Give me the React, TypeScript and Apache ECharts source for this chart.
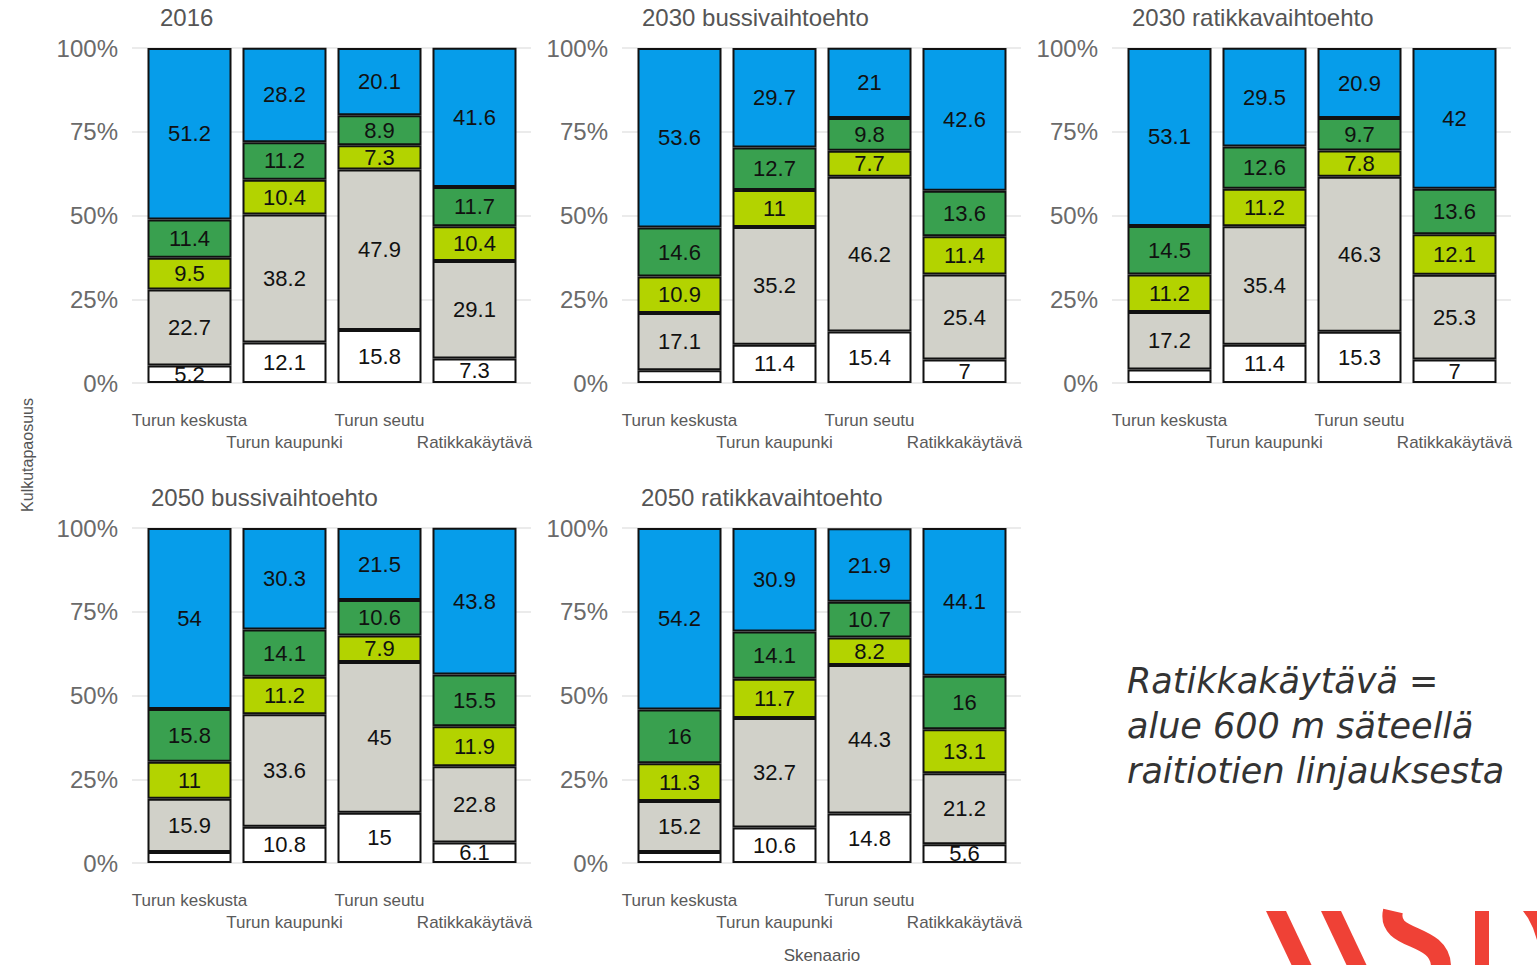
import React, { useEffect, useRef } from "react";
import * as echarts from "echarts";

const categories = ["Turun keskusta", "Turun kaupunki", "Turun seutu", "Ratikkakäytävä"];
const panelTitles = [
  "2016",
  "2030 bussivaihtoehto",
  "2030 ratikkavaihtoehto",
  "2050 bussivaihtoehto",
  "2050 ratikkavaihtoehto",
];
const yTicks = [0, 25, 50, 75, 100];

// segments bottom -> top: white, grey, yellow-green, green, blue
const y2016 = [
  [5.2, 12.1, 15.8, 7.3],
  [22.7, 38.2, 47.9, 29.1],
  [9.5, 10.4, 7.3, 10.4],
  [11.4, 11.2, 8.9, 11.7],
  [51.2, 28.2, 20.1, 41.6],
];
const y2030bus = [
  [3.8, 11.4, 15.4, 7],
  [17.1, 35.2, 46.2, 25.4],
  [10.9, 11, 7.7, 11.4],
  [14.6, 12.7, 9.8, 13.6],
  [53.6, 29.7, 21, 42.6],
];
const y2030tram = [
  [4.0, 11.4, 15.3, 7],
  [17.2, 35.4, 46.3, 25.3],
  [11.2, 11.2, 7.8, 12.1],
  [14.5, 12.6, 9.7, 13.6],
  [53.1, 29.5, 20.9, 42],
];
const y2050bus = [
  [3.3, 10.8, 15, 6.1],
  [15.9, 33.6, 45, 22.8],
  [11, 11.2, 7.9, 11.9],
  [15.8, 14.1, 10.6, 15.5],
  [54, 30.3, 21.5, 43.8],
];
const y2050tram = [
  [3.3, 10.6, 14.8, 5.6],
  [15.2, 32.7, 44.3, 21.2],
  [11.3, 11.7, 8.2, 13.1],
  [16, 14.1, 10.7, 16],
  [54.2, 30.9, 21.9, 44.1],
];
const panelValues = [y2016, y2030bus, y2030tram, y2050bus, y2050tram];

const segmentColors = ["#FFFFFF", "#D1D1C9", "#B3D300", "#39A04F", "#069DEA"];
const noteLines = ["Ratikkakäytävä =", "alue 600 m säteellä", "raitiotien linjauksesta"];

const FONT = "'Liberation Sans', Arial, sans-serif";

export default function App() {
  const ref = useRef<HTMLDivElement>(null);
  useEffect(() => {
    if (!ref.current) return;
    const chart = echarts.init(ref.current, undefined, { renderer: "svg" });

    const panelLeft = [132, 622, 1112, 132, 622];
    const panelTop = [48, 48, 48, 528, 528];
    const titleX = [160, 642, 1132, 151, 641];
    const W = 399;
    const H = 335;

    const grid: any[] = [];
    const xAxis: any[] = [];
    const yAxis: any[] = [];
    const series: any[] = [];

    // background grids (gridlines)
    for (let i = 0; i < 5; i++) {
      grid.push({ left: panelLeft[i], top: panelTop[i], width: W, height: H });
      xAxis.push({ type: "category", gridIndex: i, data: categories, show: false });
      yAxis.push({
        type: "value",
        gridIndex: i,
        min: yTicks[0],
        max: yTicks[yTicks.length - 1],
        interval: 25,
        axisLabel: { show: false },
        axisLine: { show: false },
        axisTick: { show: false },
        splitLine: { show: true, lineStyle: { color: "#E4E4E4", width: 1.5 } },
      });
    }
    // bar grids
    for (let i = 0; i < 5; i++) {
      grid.push({ left: panelLeft[i] + 10, top: panelTop[i], width: 380, height: H });
      xAxis.push({
        type: "category",
        gridIndex: 5 + i,
        data: categories,
        axisLine: { show: false },
        axisTick: { show: false },
        axisLabel: {
          interval: 0,
          margin: 26,
          fontSize: 17,
          lineHeight: 22,
          color: "#5a5a5a",
          fontFamily: FONT,
          formatter: (v: string, idx: number) => (idx % 2 === 1 ? "\n" + v : v),
        },
      });
      yAxis.push({
        type: "value",
        gridIndex: 5 + i,
        min: 0,
        max: 100,
        interval: 25,
        axisLine: { show: false },
        axisTick: { show: false },
        splitLine: { show: false },
        axisLabel: {
          margin: 24,
          fontSize: 24,
          color: "#6a6a6a",
          fontFamily: FONT,
          formatter: (v: number) => v + "%",
        },
      });
      const vals = panelValues[i];
      vals.forEach((seg, s) => {
        series.push({
          type: "bar",
          xAxisIndex: 5 + i,
          yAxisIndex: 5 + i,
          stack: "p" + i,
          barWidth: 84,
          clip: false,
          itemStyle: { color: segmentColors[s], borderColor: "#111", borderWidth: 2 },
          label: {
            show: true,
            position: "inside",
            fontSize: 22,
            color: "#111",
            fontFamily: FONT,
            formatter: (p: any) => String(p.value),
          },
          data: seg.map((v) => (v < 5 ? { value: v, label: { show: false } } : v)),
        });
      });
    }

    const graphic: any[] = [];
    panelTitles.forEach((t, i) => {
      graphic.push({
        type: "text",
        x: titleX[i],
        y: i < 3 ? 17 : 497,
        style: {
          text: t,
          fontSize: 24,
          fill: "#555",
          fontFamily: FONT,
          textAlign: "left",
          textVerticalAlign: "middle",
        },
      });
    });
    graphic.push({
      type: "text",
      x: 27,
      y: 455,
      rotation: Math.PI / 2,
      style: {
        text: "Kulkutapaosuus",
        fontSize: 16,
        fill: "#555",
        fontFamily: FONT,
        textAlign: "center",
        textVerticalAlign: "middle",
      },
    });
    graphic.push({
      type: "text",
      x: 822,
      y: 955,
      style: {
        text: "Skenaario",
        fontSize: 17,
        fill: "#555",
        fontFamily: FONT,
        textAlign: "center",
        textVerticalAlign: "middle",
      },
    });
    noteLines.forEach((t, k) => {
      graphic.push({
        type: "text",
        x: 1127,
        y: 681 + k * 45,
        style: {
          text: t,
          fontSize: 35,
          fontStyle: "italic",
          fill: "#333",
          fontFamily: "'DejaVu Sans', Verdana, sans-serif",
          textAlign: "left",
          textVerticalAlign: "middle",
        },
      });
    });
    // WSP logo (partial, cut off at the bottom-right)
    const red = "#EF4136";
    graphic.push({
      type: "polygon",
      shape: { points: [[1266, 911], [1286, 911], [1312, 966], [1292, 966]] },
      style: { fill: red },
    });
    graphic.push({
      type: "polygon",
      shape: { points: [[1321, 911], [1341, 911], [1367, 966], [1347, 966]] },
      style: { fill: red },
    });
    graphic.push({
      type: "bezierCurve",
      shape: { x1: 1393, y1: 911, cpx1: 1386, cpy1: 942, cpx2: 1440, cpy2: 932, x2: 1441, y2: 966 },
      style: { stroke: red, lineWidth: 20, fill: "none" },
    });
    graphic.push({
      type: "rect",
      shape: { x: 1475, y: 911, width: 14, height: 55 },
      style: { fill: red },
    });
    graphic.push({
      type: "polygon",
      shape: { points: [[1523, 911], [1537, 911], [1537, 940], [1533, 928], [1528, 918]] },
      style: { fill: red },
    });

    chart.setOption({
      animation: false,
      backgroundColor: "#fff",
      grid,
      xAxis,
      yAxis,
      series,
      graphic,
    });
    return () => chart.dispose();
  }, []);
  return (
    <div
      ref={ref}
      style={{ position: "fixed", left: 0, top: 0, width: 1537, height: 965 }}
    />
  );
}
